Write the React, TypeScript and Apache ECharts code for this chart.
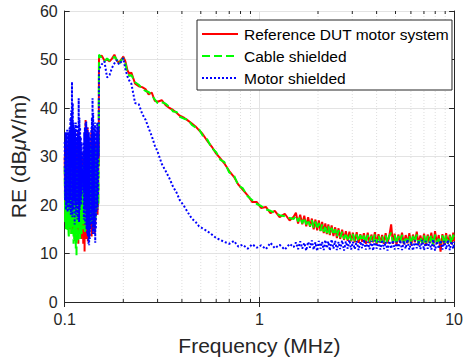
import React, { useEffect, useRef } from 'react';
import * as echarts from 'echarts';

const FONT = 'Liberation Sans, Arial, Helvetica, sans-serif';

const SERIES_NAMES = ['Reference DUT motor system', 'Cable shielded', 'Motor shielded'];
const X_TICK_LABELS = ['0.1', '1', '10'];
const MINOR_X = [0.2, 0.3, 0.4, 0.5, 0.6, 0.7, 0.8, 0.9, 2, 3, 4, 5, 6, 7, 8, 9];

const FREQ_LOW = [
  0.1000, 0.1005, 0.1010, 0.1015, 0.1020, 0.1025, 0.1030, 0.1035, 0.1040, 0.1045,
  0.1050, 0.1055, 0.1060, 0.1065, 0.1070, 0.1075, 0.1080, 0.1085, 0.1090, 0.1095,
  0.1100, 0.1105, 0.1110, 0.1115, 0.1120, 0.1125, 0.1130, 0.1135, 0.1140, 0.1145,
  0.1150, 0.1155, 0.1160, 0.1165, 0.1170, 0.1175, 0.1180, 0.1185, 0.1190, 0.1195,
  0.1200, 0.1205, 0.1210, 0.1215, 0.1220, 0.1225, 0.1230, 0.1235, 0.1240, 0.1245,
  0.1250, 0.1255, 0.1260, 0.1265, 0.1270, 0.1275, 0.1280, 0.1285, 0.1290, 0.1295,
  0.1300, 0.1305, 0.1310, 0.1315, 0.1320, 0.1325, 0.1330, 0.1335, 0.1340, 0.1345,
  0.1350, 0.1355, 0.1360, 0.1365, 0.1370, 0.1375, 0.1380, 0.1385, 0.1390, 0.1395,
  0.1400, 0.1405, 0.1410, 0.1415, 0.1420, 0.1425, 0.1430, 0.1435, 0.1440, 0.1445,
  0.1450, 0.1455, 0.1460, 0.1465, 0.1470, 0.1475, 0.1480, 0.1485, 0.1490, 0.1495,
];
const FREQ_MID = [
  0.150, 0.155, 0.160, 0.165, 0.170, 0.175, 0.180, 0.185, 0.190, 0.195,
  0.200, 0.205, 0.210, 0.215, 0.220, 0.230, 0.240, 0.250, 0.260, 0.270,
  0.280, 0.290, 0.300, 0.315, 0.330, 0.345, 0.360, 0.375, 0.390, 0.410,
  0.430, 0.450, 0.470, 0.490, 0.510, 0.540, 0.570, 0.600, 0.630, 0.660,
  0.700, 0.740, 0.780, 0.820, 0.870, 0.920, 0.970, 1.02, 1.08, 1.14,
  1.20, 1.27, 1.35, 1.43, 1.50,
];
const FREQ_HIGH = [
  1.54, 1.58, 1.62, 1.66, 1.70, 1.74, 1.78, 1.82, 1.86, 1.90,
  1.94, 1.98, 2.02, 2.06, 2.10, 2.14, 2.18, 2.22, 2.26, 2.30,
  2.35, 2.40, 2.45, 2.50, 2.55, 2.60, 2.66, 2.72, 2.78, 2.84,
  2.90, 2.96, 3.02, 3.09, 3.16, 3.23, 3.30, 3.37, 3.44, 3.52,
  3.60, 3.68, 3.76, 3.84, 3.92, 4.00, 4.09, 4.18, 4.27, 4.36,
  4.45, 4.55, 4.65, 4.75, 4.85, 4.95, 5.06, 5.17, 5.28, 5.40,
  5.52, 5.64, 5.76, 5.89, 6.02, 6.15, 6.29, 6.43, 6.57, 6.71,
  6.86, 7.01, 7.16, 7.32, 7.48, 7.64, 7.81, 7.98, 8.16, 8.34,
  8.52, 8.71, 8.90, 9.10, 9.30, 9.50, 9.71, 9.90, 10.0,
];

// Reference DUT motor system (red)
const RED_LOW = [
  30, 18, 32, 16, 33, 17, 31, 15.5, 32, 17,
  33, 16, 34, 15, 33.5, 17, 35, 14, 38, 16,
  32, 14, 30, 16.5, 33, 13, 29, 18, 32, 14.5,
  31, 15, 33, 13.5, 35, 12, 34, 14, 30, 16,
  32, 15, 28, 13, 30, 14, 27, 15, 29, 12,
  31, 13, 26, 10.4, 33, 15, 37.5, 17, 36, 13,
  33, 13, 36, 12.5, 30, 14, 28, 15, 31, 16,
  30, 17, 33, 15, 35, 13.5, 36, 14, 34, 16,
  30, 17, 34, 15, 31, 14, 30, 16, 33, 18,
  32, 19, 30, 20, 35, 18, 33, 20, 36, 28,
];
const RED_MID = [
  50.5, 50.8, 49.8, 50.0, 49.6, 50.2, 51.0, 49.8, 49.3, 50.0,
  50.6, 49.6, 47.8, 47.0, 47.3, 45.0, 44.5, 44.3, 43.9, 42.8,
  43.2, 41.5, 41.3, 41.6, 40.6, 40.0, 39.6, 39.0, 38.4, 38.0,
  37.4, 36.8, 36.2, 35.4, 34.7, 33.2, 32.0, 30.6, 29.6, 28.6,
  27.0, 25.8, 24.2, 23.2, 22.0, 20.6, 20.6, 19.4, 19.6, 18.3,
  18.8, 17.5, 18.2, 16.8, 17.6,
];
const RED_HIGH = [
  18.4, 16.2, 18.0, 16.0, 17.8, 15.6, 17.5, 15.5, 17.2, 15.0,
  17.0, 14.8, 16.8, 14.6, 16.5, 14.2, 16.2, 14.0, 16.0, 13.8,
  15.8, 13.6, 15.4, 13.2, 15.2, 13.0, 14.9, 12.8, 14.6, 12.6,
  14.5, 12.5, 14.3, 12.3, 14.4, 12.2, 14.0, 12.4, 14.2, 12.0,
  14.3, 12.1, 13.9, 12.3, 14.4, 11.9, 14.0, 12.2, 13.8, 12.0,
  14.2, 12.1, 13.7, 16.0, 12.0, 14.1, 11.8, 13.9, 12.2, 14.3,
  11.9, 13.8, 12.1, 14.2, 11.7, 13.9, 12.3, 14.5, 11.8, 13.7,
  12.0, 14.1, 11.6, 13.9, 12.2, 14.3, 11.5, 14.6, 12.0, 13.8,
  10.4, 14.0, 11.8, 14.2, 12.0, 13.9, 11.9, 14.3, 12.5,
];

// Cable shielded (green)
const GREEN_LOW = [
  28, 16.5, 30, 15, 31, 16, 29, 14.5, 30, 15,
  13.2, 29, 15, 30, 16, 31, 14, 33, 15.5, 32,
  14, 28, 12, 30, 13, 29, 12.5, 27, 11, 26,
  9.3, 26, 14, 31, 12.5, 30, 15, 29, 14, 27,
  13, 28, 15, 26, 14, 25, 16, 28, 15, 27,
  16, 30, 15, 32, 14.5, 33, 16, 30, 15, 27,
  15, 29, 17, 32, 16, 34, 15, 30, 18, 29,
  16, 31, 17, 32, 16, 28, 18, 33, 17, 34,
  16, 30, 18, 31, 16, 29, 19, 32, 17, 28,
  20, 30, 21, 33, 19, 31, 22, 34, 20, 30,
];
const GREEN_MID = [
  51.0, 50.3, 49.6, 50.2, 49.8, 49.9, 50.6, 50.0, 49.0, 49.8,
  50.3, 49.2, 47.2, 46.6, 46.8, 45.3, 44.8, 44.0, 43.5, 43.3,
  42.6, 41.8, 41.0, 41.2, 40.9, 40.2, 39.3, 39.2, 38.2, 37.8,
  37.6, 36.5, 36.0, 35.6, 34.4, 33.5, 31.7, 30.9, 29.3, 28.9,
  26.7, 26.1, 24.0, 23.5, 21.8, 21.0, 20.2, 19.8, 19.1, 18.8,
  18.4, 17.9, 17.7, 17.3, 17.1,
];
const GREEN_HIGH = [
  17.8, 16.6, 17.6, 16.2, 17.4, 16.0, 17.0, 15.6, 16.9, 15.3,
  16.6, 15.0, 16.3, 14.7, 16.0, 14.5, 15.8, 14.2, 15.6, 14.0,
  15.3, 13.8, 15.0, 13.5, 14.8, 13.3, 14.5, 13.0, 14.3, 12.9,
  14.1, 12.7, 14.0, 12.6, 13.9, 12.5, 13.8, 12.6, 13.7, 12.3,
  13.8, 12.4, 13.6, 12.5, 13.9, 12.2, 13.7, 12.4, 13.5, 12.3,
  13.7, 12.2, 13.6, 14.3, 12.3, 13.8, 12.0, 13.6, 12.4, 13.8,
  12.1, 13.5, 12.3, 13.7, 11.9, 13.6, 12.4, 13.9, 12.0, 13.4,
  12.2, 13.7, 11.8, 13.6, 12.3, 13.8, 11.7, 13.9, 12.1, 13.5,
  12.0, 13.7, 11.9, 13.8, 12.1, 13.6, 12.0, 13.9, 12.8,
];

// Motor shielded (blue)
const BLUE_LOW = [
  33, 21, 35, 19, 34.5, 20, 35.5, 18.5, 33, 20.5,
  35, 19, 36, 21, 38, 18, 39.5, 20, 45.4, 17.5,
  41, 19, 37, 21, 36, 16, 35, 20, 37, 18,
  34, 19.5, 36.5, 17, 35, 20, 42, 16.5, 38, 19,
  36, 21, 34, 20, 33, 22, 31, 23, 27, 24,
  33, 17, 35, 19, 36, 16, 37, 18, 37.2, 15,
  35, 14, 36, 13.5, 34, 12, 35, 11.7, 33, 13,
  31, 15, 34, 17, 36, 19, 38, 16, 42, 14,
  39, 18, 35, 16, 36, 14, 37, 12.2, 36, 15,
  34, 18, 35, 20, 37, 19, 33, 22, 36, 30,
];
const BLUE_MID = [
  48.0, 49.0, 49.6, 46.3, 46.8, 48.3, 49.2, 49.9, 49.0, 49.5,
  50.3, 48.0, 46.5, 45.6, 45.0, 41.0, 40.8, 38.8, 37.6, 35.8,
  34.2, 32.3, 31.0, 28.5, 27.0, 25.5, 23.8, 22.6, 21.0, 19.8,
  18.4, 17.2, 16.5, 15.6, 15.2, 14.6, 13.9, 13.2, 12.8, 12.4,
  12.0, 12.6, 11.4, 11.8, 11.0, 11.9, 11.2, 11.7, 10.9, 12.2,
  11.1, 11.8, 10.8, 12.0, 11.3,
];
const BLUE_HIGH = [
  12.3, 10.9, 12.5, 11.0, 12.2, 10.6, 12.4, 11.2, 12.7, 10.8,
  12.3, 10.5, 12.6, 11.0, 12.4, 10.7, 12.8, 11.1, 12.5, 10.6,
  12.9, 11.0, 12.6, 10.7, 12.4, 10.9, 12.7, 10.6, 12.5, 11.0,
  12.8, 10.8, 12.4, 10.9, 12.6, 10.7, 12.5, 11.1, 12.9, 10.8,
  12.4, 10.9, 12.6, 10.6, 12.7, 11.0, 12.5, 10.8, 12.8, 10.9,
  12.4, 10.6, 12.6, 11.0, 12.7, 10.8, 12.5, 10.9, 12.8, 10.7,
  12.6, 11.0, 12.9, 10.8, 12.4, 10.6, 12.7, 11.1, 12.5, 10.9,
  12.8, 10.7, 12.6, 11.0, 12.4, 10.8, 12.9, 10.6, 12.5, 11.0,
  12.7, 10.8, 12.6, 10.9, 12.8, 10.7, 12.5, 11.0, 12.4,
];

const FREQ_ALL = [...FREQ_LOW, ...FREQ_MID, ...FREQ_HIGH];
const pair = (vals: number[]) => FREQ_ALL.map((f, i) => [f, vals[i]]);

const AXIS_COLOR = '#262626';

export default function App() {
  const ref = useRef<HTMLDivElement>(null);
  useEffect(() => {
    document.body.style.margin = '0';
    const chart = echarts.init(ref.current!, null, { renderer: 'svg' });
    const fmtX = (v: number) => {
      const idx = Math.round(Math.log10(v)) + 1;
      return X_TICK_LABELS[idx] ?? String(v);
    };
    const option: any = {
      animation: false,
      backgroundColor: '#fff',
      textStyle: { fontFamily: FONT },
      grid: { left: 61, right: 4, top: 11, bottom: 61, containLabel: false },
      legend: {
        data: SERIES_NAMES,
        orient: 'vertical',
        left: 197,
        top: 20,
        padding: [6, 3, 4, 4],
        itemWidth: 36,
        itemHeight: 14,
        itemGap: 6,
        backgroundColor: '#fff',
        borderColor: AXIS_COLOR,
        borderWidth: 1,
        itemStyle: { opacity: 0 },
        textStyle: { fontSize: 15.5, color: '#000', fontFamily: FONT, padding: [0, 0, 0, 1] },
      },
      xAxis: [
        {
          type: 'log',
          logBase: 10,
          min: 0.1,
          max: 10,
          position: 'bottom',
          name: 'Frequency (MHz)',
          nameLocation: 'middle',
          nameGap: 33,
          nameTextStyle: { fontSize: 21, color: AXIS_COLOR, fontFamily: FONT },
          axisLine: { show: true, lineStyle: { color: AXIS_COLOR, width: 1 } },
          axisTick: { show: true, inside: true, length: 5, lineStyle: { color: AXIS_COLOR } },
          axisLabel: {
            fontSize: 16,
            color: AXIS_COLOR,
            fontFamily: FONT,
            margin: 9,
            formatter: fmtX,
            alignMinLabel: 'center',
            alignMaxLabel: 'center',
          },
          splitLine: { show: true, lineStyle: { color: '#e3e3e3', width: 1 } },
          minorTick: { show: false },
        },
        {
          type: 'log',
          logBase: 10,
          min: 0.1,
          max: 10,
          position: 'top',
          axisLine: { show: true, lineStyle: { color: AXIS_COLOR, width: 1 } },
          axisTick: { show: true, inside: true, length: 5, lineStyle: { color: AXIS_COLOR } },
          axisLabel: { show: false },
          splitLine: { show: false },
        },
      ],
      yAxis: [
        {
          type: 'value',
          min: 0,
          max: 60,
          interval: 10,
          position: 'left',
          name: 'RE (dB{mu|μ}V/m)',
          nameLocation: 'middle',
          nameRotate: 90,
          nameGap: 30,
          nameTextStyle: {
            fontSize: 21,
            color: AXIS_COLOR,
            fontFamily: FONT,
            rich: { mu: { fontSize: 21, fontStyle: 'italic', color: AXIS_COLOR, fontFamily: FONT } },
          },
          axisLine: { show: true, lineStyle: { color: AXIS_COLOR, width: 1 } },
          axisTick: { show: true, inside: true, length: 5, lineStyle: { color: AXIS_COLOR } },
          axisLabel: { fontSize: 16, color: AXIS_COLOR, fontFamily: FONT, margin: 7 },
          splitLine: { show: true, lineStyle: { color: '#e3e3e3', width: 1 } },
        },
        {
          type: 'value',
          min: 0,
          max: 60,
          interval: 10,
          position: 'right',
          axisLine: { show: true, lineStyle: { color: AXIS_COLOR, width: 1 } },
          axisTick: { show: true, inside: true, length: 5, lineStyle: { color: AXIS_COLOR } },
          axisLabel: { show: false },
          splitLine: { show: false },
        },
      ],
      series: [
        {
          type: 'custom',
          name: 'minor',
          xAxisIndex: 0,
          yAxisIndex: 0,
          silent: true,
          z: 1,
          data: MINOR_X.map((f) => [f, 0]),
          renderItem: (_params: any, api: any) => {
            const f = api.value(0);
            const b = api.coord([f, 0]);
            const t = api.coord([f, 60]);
            return {
              type: 'group',
              children: [
                {
                  type: 'line',
                  shape: { x1: b[0], y1: b[1], x2: t[0], y2: t[1] },
                  style: { stroke: '#dedede', lineWidth: 1, lineDash: [1, 2] },
                },
                {
                  type: 'line',
                  shape: { x1: b[0], y1: b[1], x2: b[0], y2: b[1] - 3 },
                  style: { stroke: AXIS_COLOR, lineWidth: 1 },
                },
                {
                  type: 'line',
                  shape: { x1: t[0], y1: t[1], x2: t[0], y2: t[1] + 3 },
                  style: { stroke: AXIS_COLOR, lineWidth: 1 },
                },
              ],
            };
          },
        },
        {
          type: 'line',
          name: SERIES_NAMES[0],
          data: pair([...RED_LOW, ...RED_MID, ...RED_HIGH]),
          symbol: 'none',
          z: 3,
          lineStyle: { color: '#ff0000', width: 2, type: 'solid' },
          itemStyle: { color: '#ff0000' },
        },
        {
          type: 'line',
          name: SERIES_NAMES[1],
          data: pair([...GREEN_LOW, ...GREEN_MID, ...GREEN_HIGH]),
          symbol: 'none',
          z: 4,
          lineStyle: { color: '#00ff00', width: 2, type: 'dashed' },
          itemStyle: { color: '#00ff00' },
        },
        {
          type: 'line',
          name: SERIES_NAMES[2],
          data: pair([...BLUE_LOW, ...BLUE_MID, ...BLUE_HIGH]),
          symbol: 'none',
          z: 5,
          lineStyle: { color: '#0000ff', width: 2, type: 'dotted' },
          itemStyle: { color: '#0000ff' },
        },
      ],
    };
    chart.setOption(option);
    return () => chart.dispose();
  }, []);
  return <div ref={ref} style={{ width: 466, height: 363 }} />;
}
